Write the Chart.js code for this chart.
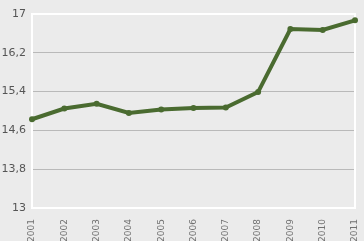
<!DOCTYPE html>
<html>
<head>
<meta charset="utf-8">
<script src="https://cdn.jsdelivr.net/npm/chart.js@4"></script>
<style>
  html, body { margin: 0; padding: 0; background: #ebebeb; }
  #wrap { width: 364px; height: 241px; }
</style>
</head>
<body>
<div id="wrap"><canvas id="lineChart" width="364" height="241"></canvas></div>
<script>
// data
const years = ['2001', '2002', '2003', '2004', '2005', '2006', '2007', '2008', '2009', '2010', '2011'];
const values = [14.83, 15.05, 15.15, 14.96, 15.03, 15.06, 15.07, 15.39, 16.69, 16.67, 16.87];
const yTicks = [13, 13.8, 14.6, 15.4, 16.2, 17];

const lineColor = '#4a6b30';

// white frame round the plot area
const frame = {
    id: 'frame',
    beforeDatasetsDraw(chart) {
        const a = chart.chartArea;
        const ctx = chart.ctx;
        ctx.save();
        ctx.strokeStyle = '#ffffff';
        ctx.lineWidth = 2;
        ctx.strokeRect(a.left, a.top, a.right - a.left, a.bottom - a.top);
        ctx.restore();
    }
};

const ctx = document.getElementById('lineChart').getContext('2d');
var chart = new Chart(ctx, {
    type: 'line',
    data: {
        labels: years,
        datasets: [{
            data: values,
            borderColor: lineColor,
            backgroundColor: lineColor,
            borderWidth: 4,
            pointRadius: 3,
            pointBorderWidth: 0,
            pointBackgroundColor: lineColor,
            tension: 0,
            fill: false
        }]
    },
    options: {
        responsive: false,
        animation: false,
        layout: { padding: { top: 14, right: 9, left: 0, bottom: 0 } },
        plugins: { legend: { display: false }, tooltip: { enabled: false } },
        scales: {
            x: {
                offset: false,
                grid: { display: false },
                border: { display: false },
                ticks: {
                    minRotation: 90,
                    maxRotation: 90,
                    color: '#707070',
                    padding: 3,
                    font: { family: 'DejaVu Sans', size: 9 }
                },
                afterFit(scale) {
                    scale.height = 33;
                    scale.paddingRight = 0;
                    scale.paddingLeft = 0;
                }
            },
            y: {
                min: 13,
                max: 17,
                afterBuildTicks(scale) {
                    scale.ticks = yTicks.map(v => ({ value: v }));
                },
                grid: {
                    color: c => (c.index === 0 || c.index === yTicks.length - 1) ? 'rgba(0,0,0,0)' : '#b9b9b9',
                    lineWidth: 1,
                    drawTicks: false
                },
                border: { display: false },
                ticks: {
                    color: '#555',
                    padding: 6,
                    font: { family: 'DejaVu Sans', size: 11 },
                    callback: v => String(v).replace('.', ',')
                },
                afterFit(scale) { scale.width = 32; }
            }
        }
    },
    plugins: [frame]
});
</script>
</body>
</html>
